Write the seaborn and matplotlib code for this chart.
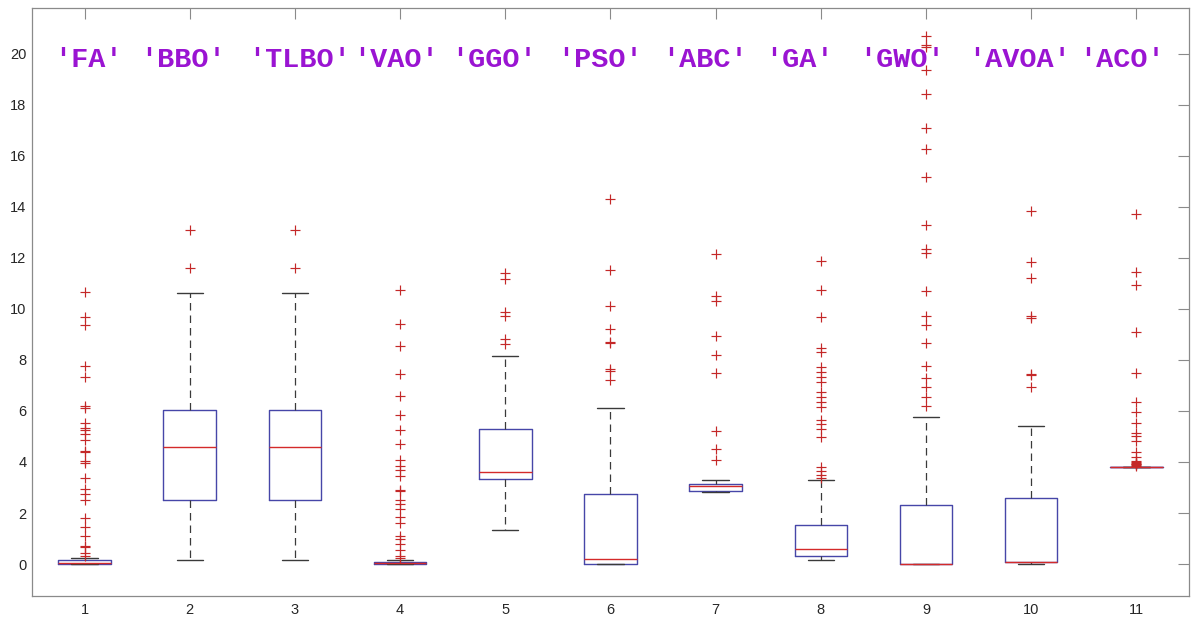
import numpy as np
import matplotlib
matplotlib.use("Agg")
import matplotlib.pyplot as plt
import seaborn as sns
import pandas as pd

# ---------------- data ----------------
names = ['FA', 'BBO', 'TLBO', 'VAO', 'GGO', 'PSO', 'ABC', 'GA', 'GWO', 'AVOA', 'ACO']
groups = list(range(1, 12))
q1 = [0.0, 2.5, 2.5, 0.0, 3.35, 0.0, 2.88, 0.3, 0.0, 0.07, 3.8]
med = [0.05, 4.58, 4.58, 0.03, 3.6, 0.2, 3.05, 0.58, 0.02, 0.1, 3.8]
q3 = [0.15, 6.05, 6.05, 0.09, 5.28, 2.74, 3.12, 1.53, 2.31, 2.57, 3.8]
whislo = [0.0, 0.15, 0.15, 0.0, 1.33, 0.0, 2.82, 0.16, 0.0, 0.02, 3.8]
whishi = [0.22, 10.6, 10.6, 0.17, 8.14, 6.12, 3.31, 3.29, 5.75, 5.4, 3.8]

fliers_FA = [10.66, 9.68, 9.35, 7.76, 7.33, 6.18, 6.13, 5.53, 5.35, 5.24, 5.1, 4.88,
             4.42, 4.38, 4.03, 3.96, 3.38, 2.96, 2.74, 2.5, 1.79, 1.44, 1.1, 0.7,
             0.65, 0.42, 0.3]
fliers_BBO = [11.6, 13.1]
fliers_TLBO = [11.6, 13.1]
fliers_VAO = [10.72, 9.39, 8.53, 7.46, 6.57, 5.83, 5.27, 4.72, 4.07, 3.84, 3.68, 3.44,
              2.92, 2.88, 2.53, 2.34, 2.15, 1.85, 1.62, 1.1, 0.97, 0.78, 0.55, 0.31, 0.22]
fliers_GGO = [11.42, 11.15, 9.88, 9.7, 8.8, 8.62]
fliers_PSO = [14.31, 11.53, 10.12, 9.2, 8.7, 8.65, 7.66, 7.57, 7.2]
fliers_ABC = [12.13, 10.49, 10.31, 8.92, 8.2, 7.5, 5.2, 4.52, 4.07]
fliers_GA = [11.87, 10.75, 9.66, 8.48, 8.31, 7.73, 7.53, 7.34, 7.14, 6.75, 6.55, 6.36,
             6.16, 5.64, 5.48, 5.31, 4.98, 3.81, 3.65, 3.48, 3.39]
fliers_GWO = [20.7, 20.35, 20.25, 19.35, 18.4, 17.1, 16.25, 15.15, 13.3, 12.35, 12.2,
              10.7, 9.7, 9.35, 8.65, 7.75, 7.3, 6.95, 6.55, 6.2]
fliers_AVOA = [13.85, 11.83, 11.2, 9.7, 9.65, 7.45, 7.4, 6.94]
fliers_ACO = [13.7, 11.44, 10.95, 9.1, 7.49, 6.36, 5.94, 5.51, 5.12, 5.01, 4.83, 4.4,
              4.21, 4.05, 4.0, 3.97, 3.94, 3.91, 3.88, 3.85]
fliers = [fliers_FA, fliers_BBO, fliers_TLBO, fliers_VAO, fliers_GGO, fliers_PSO,
          fliers_ABC, fliers_GA, fliers_GWO, fliers_AVOA, fliers_ACO]

label_y = 19.75
# ---------------- layout / style ----------------
label_dx = [0.04, -0.06, 0.04, -0.04, -0.11, -0.1, -0.1, -0.2, -0.23, -0.11, -0.14]

sns.set_style("white")
plt.rcParams['font.family'] = ['Liberation Sans', 'DejaVu Sans']

fig = plt.figure(figsize=(11.93, 6.22), dpi=100)
ax = fig.add_axes([0.0268, 0.0418, 0.9698, 0.946])

stats = []
for i in range(len(names)):
    stats.append(dict(med=med[i], q1=q1[i], q3=q3[i], whislo=whislo[i],
                      whishi=whishi[i], fliers=[], label=str(groups[i])))

box_col = '#4646a8'
ax.bxp(stats, positions=groups, widths=0.5, showfliers=False, capwidths=0.25,
       boxprops=dict(color=box_col, linewidth=1.0),
       medianprops=dict(color='#d42a2a', linewidth=1.0),
       whiskerprops=dict(color='#3a3a3a', linewidth=0.9, linestyle=(0, (6, 4))),
       capprops=dict(color='#3a3a3a', linewidth=1.0))

fl_df = pd.DataFrame({
    'x': np.concatenate([[g] * len(f) for g, f in zip(groups, fliers)]),
    'y': np.concatenate(fliers),
})
sns.scatterplot(data=fl_df, x='x', y='y', marker='+', s=42, color='#c42828',
                linewidth=0.85, ax=ax, zorder=4, legend=False)

for i, n in enumerate(names):
    ax.text(groups[i] + label_dx[i], label_y, "'" + n + "'", ha='center', va='center',
            fontsize=20.5, fontweight='bold', color='#9a14d2',
            family=['Liberation Mono', 'DejaVu Sans Mono'])

ax.set_xlim(0.5, 11.5)
ax.set_ylim(-1.25, 21.8)
ax.set_xticks(groups)
ax.set_xticklabels([str(g) for g in groups])
ax.set_yticks(np.arange(0, 21, 2))
ax.set_xlabel('')
ax.set_ylabel('')
for s in ax.spines.values():
    s.set_visible(True)
    s.set_color('#8a8a8a')
    s.set_linewidth(0.9)
ax.tick_params(axis='both', direction='in', length=8, width=0.8, color='#8a8a8a',
               labelsize=10.5, labelcolor='#262626', top=True, right=True, pad=5)
ax.tick_params(axis='y', pad=4)

fig.savefig('out.png', dpi=100, facecolor='white')
